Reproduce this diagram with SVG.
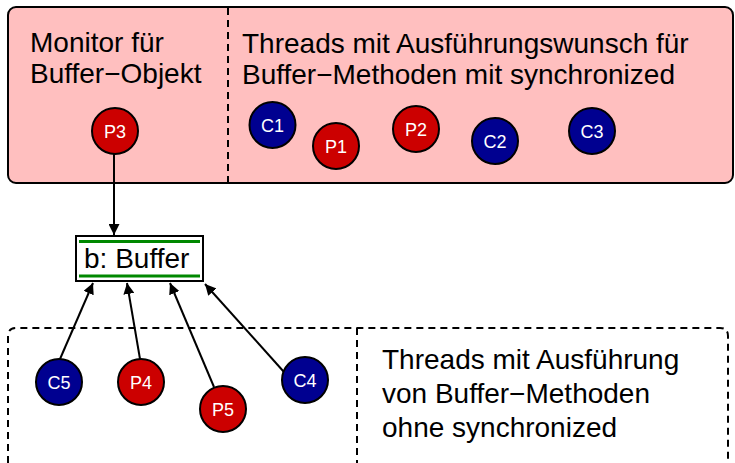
<svg xmlns="http://www.w3.org/2000/svg" width="735" height="463" viewBox="0 0 735 463">
<defs>
<style>
.t{font-family:"Liberation Sans",Arial,sans-serif;font-size:28px;fill:#000}
.c{font-family:"Liberation Sans",Arial,sans-serif;font-size:18px;fill:#fff;text-anchor:middle}
.red{fill:#cc0000;stroke:#000;stroke-width:2}
.blue{fill:#000090;stroke:#000;stroke-width:2}
.dash{fill:none;stroke:#000;stroke-width:2;stroke-dasharray:7,5}
.edge{stroke:#000;stroke-width:2;fill:none;marker-end:url(#ah)}
</style>
<marker id="ah" viewBox="0 0 10 10" refX="10" refY="5" markerWidth="5.5" markerHeight="5.5" orient="auto" markerUnits="strokeWidth">
<path d="M0,0 L10,5 L0,10 z" fill="#000"/>
</marker>
</defs>
<rect width="735" height="463" fill="#fff"/>
<g id="monitor-area">
<rect x="8" y="7" width="725" height="176" rx="8" ry="8" fill="#ffbfbf" stroke="#000" stroke-width="2"/>
<line x1="228" y1="8" x2="228" y2="182" class="dash"/>
<text class="t" x="30" y="52">Monitor für</text>
<text class="t" x="30" y="83">Buffer−Objekt</text>
<text class="t" x="242" y="53">Threads mit Ausführungswunsch für</text>
<text class="t" x="242" y="84">Buffer−Methoden mit synchronized</text>
</g>
<g id="free-area">
<path d="M8,463 L8,336 Q8,328 16,328 L720,328 Q728,328 728,336 L728,463" class="dash"/>
<line x1="357" y1="328" x2="357" y2="463" class="dash"/>
<text class="t" x="382" y="369">Threads mit Ausführung</text>
<text class="t" x="382" y="403">von Buffer−Methoden</text>
<text class="t" x="382" y="437">ohne synchronized</text>
</g>
<g id="connectors">
<line x1="114" y1="154" x2="114" y2="235" class="edge"/>
<line x1="60" y1="359" x2="93" y2="283" class="edge"/>
<line x1="140" y1="359" x2="127" y2="283" class="edge"/>
<line x1="214" y1="387" x2="170" y2="283" class="edge"/>
<line x1="284" y1="372" x2="205" y2="284" class="edge"/>
</g>
<g id="buffer">
<rect x="76" y="236" width="127" height="45" fill="#fff" stroke="#000" stroke-width="2"/>
<line x1="79" y1="241.5" x2="200" y2="241.5" stroke="#008800" stroke-width="3"/>
<line x1="79" y1="276" x2="200" y2="276" stroke="#008800" stroke-width="3"/>
<text class="t" x="84" y="268">b: Buffer</text>
</g>
<g id="P3"><circle cx="115" cy="131" r="23" class="red"/><text class="c" x="115" y="137.5">P3</text></g>
<g id="C1"><circle cx="272.5" cy="125" r="23" class="blue"/><text class="c" x="272.5" y="131.5">C1</text></g>
<g id="P1"><circle cx="336" cy="146" r="23" class="red"/><text class="c" x="336" y="152.5">P1</text></g>
<g id="P2"><circle cx="416" cy="129" r="23" class="red"/><text class="c" x="416" y="135.5">P2</text></g>
<g id="C2"><circle cx="495" cy="141" r="23" class="blue"/><text class="c" x="495" y="147.5">C2</text></g>
<g id="C3"><circle cx="592" cy="131" r="23" class="blue"/><text class="c" x="592" y="137.5">C3</text></g>
<g id="C5"><circle cx="59" cy="382" r="23" class="blue"/><text class="c" x="59" y="388.5">C5</text></g>
<g id="P4"><circle cx="141" cy="382" r="23" class="red"/><text class="c" x="141" y="388.5">P4</text></g>
<g id="P5"><circle cx="223" cy="409" r="23" class="red"/><text class="c" x="223" y="415.5">P5</text></g>
<g id="C4"><circle cx="305" cy="380" r="23" class="blue"/><text class="c" x="305" y="386.5">C4</text></g>
</svg>
